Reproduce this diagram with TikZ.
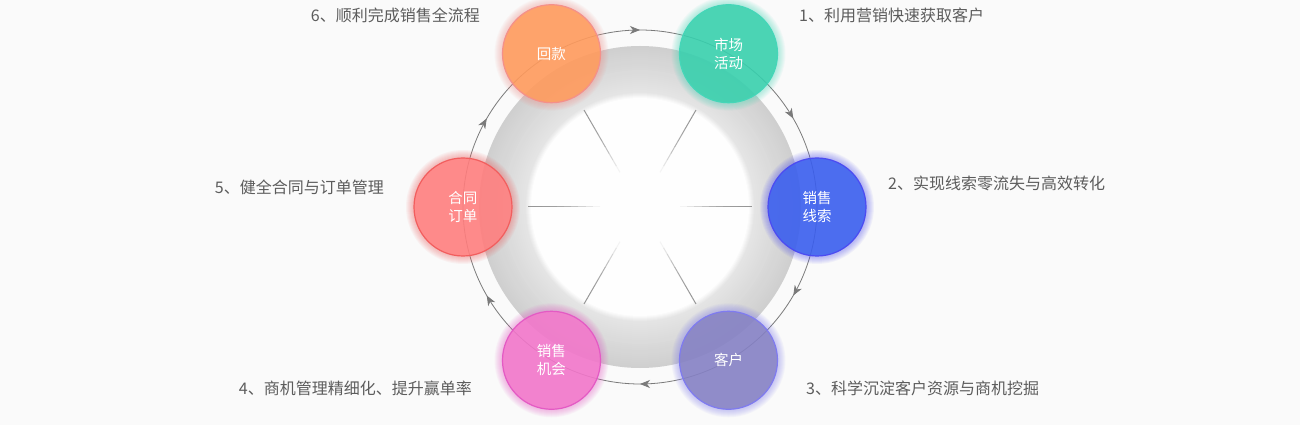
\documentclass[tikz,border=0pt]{standalone}
\usepackage{fontspec}
\setmainfont{Noto Sans CJK SC}
\usetikzlibrary{arrows.meta,decorations.markings}

\definecolor{bgcol}{HTML}{FAFAFA}
\definecolor{txtcol}{HTML}{5C5C5C}
\definecolor{arccol}{HTML}{7A7A7A}
\definecolor{ringin}{HTML}{E5E5E5}
\definecolor{ringout}{HTML}{CFCFCF}
\definecolor{discol}{HTML}{FEFEFE}

\definecolor{orangefill}{HTML}{FF9A5C}
\definecolor{orangeedge}{HTML}{F4908A}
\definecolor{tealfill}{HTML}{38D0AD}
\definecolor{tealedge}{HTML}{45D6B8}
\definecolor{bluefill}{HTML}{3A5EEE}
\definecolor{blueedge}{HTML}{4B4BF2}
\definecolor{violetfill}{HTML}{8581C4}
\definecolor{violetedge}{HTML}{7F7BF0}
\definecolor{pinkfill}{HTML}{F276CA}
\definecolor{pinkedge}{HTML}{E45AC4}
\definecolor{redfill}{HTML}{FF7E7E}
\definecolor{rededge}{HTML}{F25E5E}

\begin{document}
\begin{tikzpicture}[x=1pt, y=1pt,
    bubble/.style 2 args={circle, minimum size=98pt, inner sep=0pt, fill=#1, draw=#2,
      line width=1.2pt, fill opacity=0.9, text opacity=1, text=white,
      align=center, font=\fontsize{14.5}{18}\selectfont},
    note/.style={inner sep=0pt, text=txtcol, font=\fontsize{16}{19}\selectfont},
    flow/.style={draw=arccol, line width=0.8pt, postaction={decorate},
      decoration={markings, mark=at position 0.5 with {\arrow{Stealth[length=10pt, width=8pt, inset=3pt]}}}}]

    \fill[bgcol] (-640,-218) rectangle (660,207);
    \useasboundingbox (-640,-218) rectangle (660,207);

    % ring and spokes
    \foreach \r [evaluate=\r as \m using int((161-\r)*100/46)] in {161,159,...,115}
    \fill[ringin!\m!ringout] (0,0) circle (\r);
    \foreach \r [evaluate=\r as \m using int((115-\r)*100/6)] in {115,114,...,109}
    \fill[discol!\m!ringin] (0,0) circle (\r);

    \foreach \a in {0,60,...,300}
    \foreach \k/\shadepc in {0/4,1/10,2/17,3/24,4/30,5/34,6/37,7/39,8/40,9/41}
    \draw[black!\shadepc!discol, line width=1pt] (\a:{40+7.2*\k}) -- (\a:{47.2+7.2*\k});

    \coordinate (p1) at (60:177);
    \coordinate (p2) at (0:177);
    \coordinate (p3) at (-60:177);
    \coordinate (p4) at (-120:177);
    \coordinate (p5) at (180:177);
    \coordinate (p6) at (120:177);

    \foreach \i/\a in {1/60, 2/0, 3/-60, 4/-120, 5/-180, 6/-240}
    \draw[flow] (p\i) arc[start angle=\a, delta angle=-60, radius=177];

    % glow
    \foreach \i/\c in {1/tealedge, 2/blueedge, 3/violetedge, 4/pinkedge, 5/rededge, 6/orangeedge}
    \foreach \r in {50,...,57}
    \fill[\c, opacity=0.06, even odd rule] (p\i) circle (\r) circle (49);

    \node[bubble={tealfill}{tealedge}] (shichang) at (p1) {市场\\活动};
    \node[bubble={bluefill}{blueedge}] (xiansuo) at (p2) {销售\\线索};
    \node[bubble={violetfill}{violetedge}] (kehu) at (p3) {客户};
    \node[bubble={pinkfill}{pinkedge}] (jihui) at (p4) {销售\\机会};
    \node[bubble={redfill}{rededge}] (hetong) at (p5) {合同\\订单};
    \node[bubble={orangefill}{orangeedge}] (huikuan) at (p6) {回款};

    \node[note, anchor=west] (note1) at (159,192) {1、利用营销快速获取客户};
    \node[note, anchor=west] (note2) at (248,24) {2、实现线索零流失与高效转化};
    \node[note, anchor=west] (note3) at (166,-181) {3、科学沉淀客户资源与商机挖掘};
    \node[note, anchor=east] (note4) at (-168,-181) {4、商机管理精细化、提升赢单率};
    \node[note, anchor=east] (note5) at (-256,20) {5、健全合同与订单管理};
    \node[note, anchor=east] (note6) at (-160,192) {6、顺利完成销售全流程};

\end{tikzpicture}
\end{document}
